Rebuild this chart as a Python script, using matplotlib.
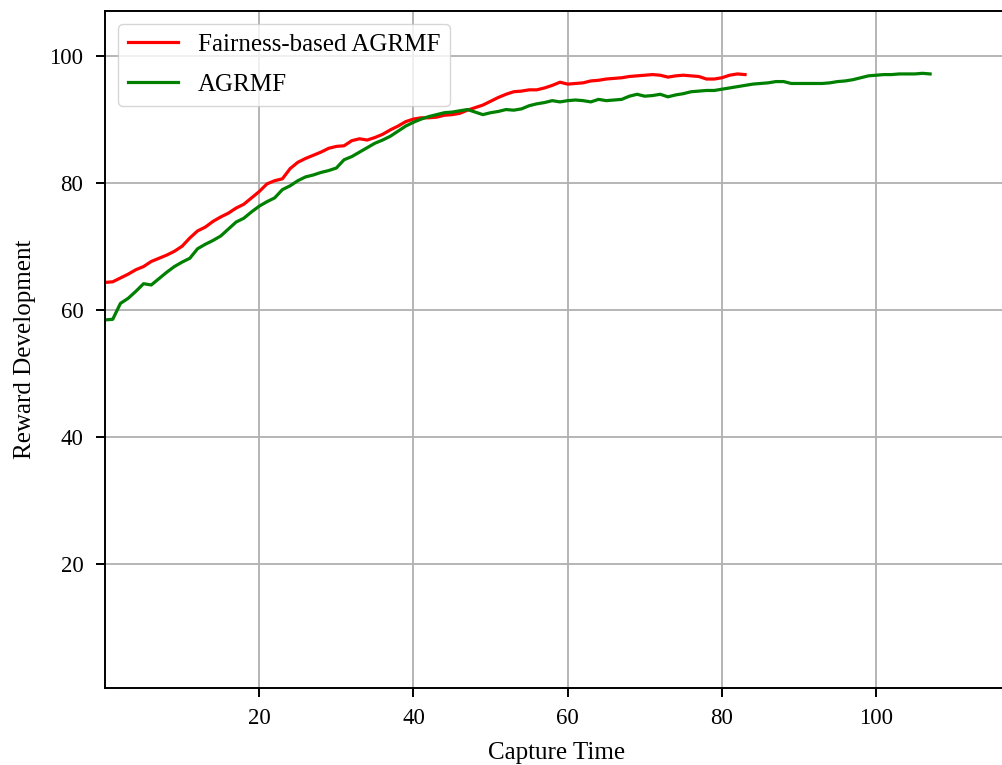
import matplotlib
matplotlib.use("Agg")
import matplotlib.pyplot as plt

plt.rcParams['font.family'] = ['Liberation Serif', 'DejaVu Serif']

# Fairness-based AGRMF, capture time 0..83
fair_reward = [
    64.3, 64.4, 65.0, 65.6, 66.3, 66.8, 67.6, 68.1, 68.6, 69.2,
    70.0, 71.3, 72.4, 73.0, 73.9, 74.6, 75.2, 76.0, 76.6, 77.6,
    78.6, 79.8, 80.3, 80.6, 82.2, 83.2, 83.8, 84.3, 84.8, 85.4,
    85.7, 85.8, 86.6, 86.9, 86.7, 87.1, 87.6, 88.3, 88.9, 89.6,
    90.0, 90.2, 90.2, 90.3, 90.6, 90.7, 90.9, 91.4, 91.8, 92.2,
    92.8, 93.4, 93.9, 94.3, 94.4, 94.6, 94.6, 94.9, 95.3, 95.8,
    95.5, 95.6, 95.7, 96.0, 96.1, 96.3, 96.4, 96.5, 96.7, 96.8,
    96.9, 97.0, 96.9, 96.6, 96.8, 96.9, 96.8, 96.7, 96.3, 96.3,
    96.5, 96.9, 97.1, 97.0,
]
fair_time = list(range(len(fair_reward)))

# AGRMF, capture time 0..107
agrmf_reward = [
    58.4, 58.5, 61.0, 61.8, 62.9, 64.1, 63.9, 64.9, 65.9, 66.8,
    67.5, 68.1, 69.6, 70.3, 70.9, 71.6, 72.7, 73.8, 74.4, 75.4,
    76.3, 77.0, 77.6, 78.9, 79.5, 80.3, 80.9, 81.2, 81.6, 81.9,
    82.3, 83.6, 84.1, 84.8, 85.5, 86.2, 86.7, 87.3, 88.1, 88.9,
    89.5, 90.0, 90.4, 90.7, 91.0, 91.1, 91.3, 91.5, 91.1, 90.7,
    91.0, 91.2, 91.5, 91.4, 91.6, 92.1, 92.4, 92.6, 92.9, 92.7,
    92.9, 93.0, 92.9, 92.7, 93.1, 92.9, 93.0, 93.1, 93.6, 93.9,
    93.6, 93.7, 93.9, 93.5, 93.8, 94.0, 94.3, 94.4, 94.5, 94.5,
    94.7, 94.9, 95.1, 95.3, 95.5, 95.6, 95.7, 95.9, 95.9, 95.6,
    95.6, 95.6, 95.6, 95.6, 95.7, 95.9, 96.0, 96.2, 96.5, 96.8,
    96.9, 97.0, 97.0, 97.1, 97.1, 97.1, 97.2, 97.1,
]
agrmf_time = list(range(len(agrmf_reward)))

fig = plt.figure(figsize=(10.03, 7.65), dpi=100)
ax = fig.add_axes([0.1047, 0.1007, 0.9003, 0.8849])

ax.plot(fair_time, fair_reward, color='red', lw=2.3, label='Fairness-based AGRMF')
ax.plot(agrmf_time, agrmf_reward, color='green', lw=2.3, label='AGRMF')

ax.set_xlim(0, 117.1)
ax.set_ylim(0.5, 107)
ax.set_xticks([20, 40, 60, 80, 100])
ax.set_yticks([20, 40, 60, 80, 100])
ax.grid(True, color='#b0b0b0', lw=1.3)
ax.tick_params(axis='y', labelsize=16.5, length=6.5, width=1.4, pad=9)
ax.tick_params(axis='x', labelsize=16.5, length=6.5, width=1.4, pad=8)
for s in ax.spines.values():
    s.set_linewidth(1.4)

ax.set_xlabel('Capture Time', fontsize=18, labelpad=9)
ax.set_ylabel('Reward Development', fontsize=18, labelpad=10)
ax.legend(loc='upper left', fontsize=18, borderaxespad=0.5, labelspacing=0.7)

fig.savefig('out.png', dpi=100)
